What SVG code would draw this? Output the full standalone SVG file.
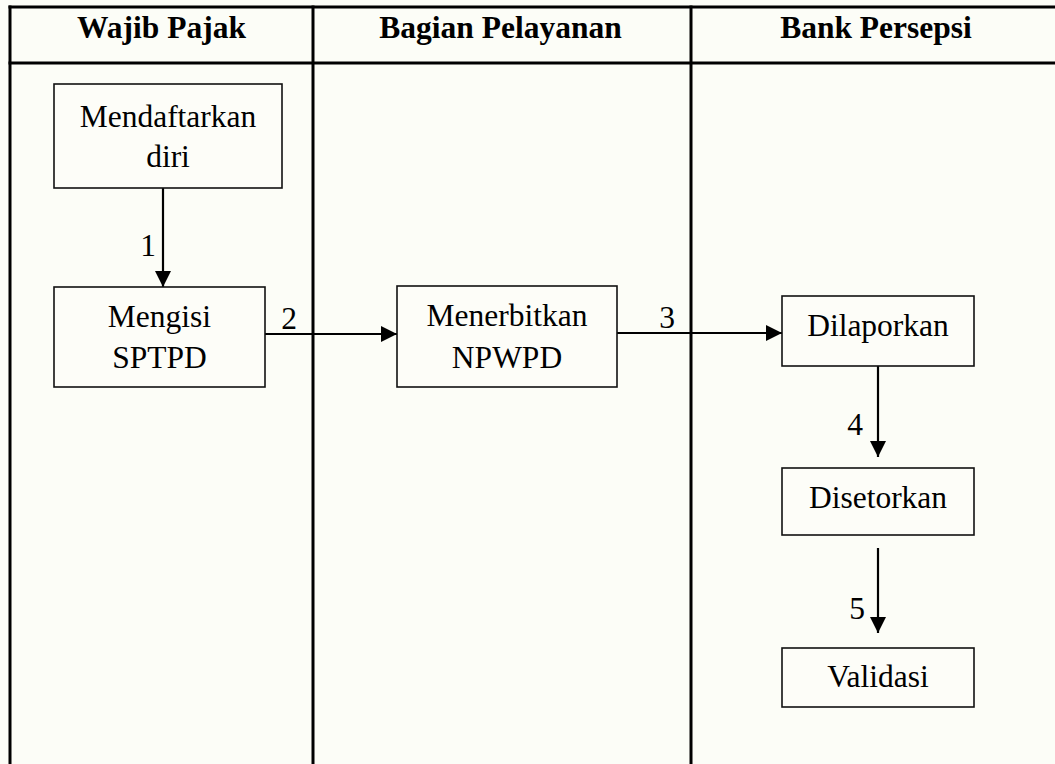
<svg xmlns="http://www.w3.org/2000/svg" width="1055" height="764" viewBox="0 0 1055 764">
<defs>
<style>
.grid{stroke:#000;stroke-width:3;fill:none}
.box{fill:#fdfdf8;stroke:#111;stroke-width:1.6}
.hd{font-family:"Liberation Serif","Times New Roman",serif;font-weight:bold;font-size:31.5px;fill:#000;text-anchor:middle}
.tx{font-family:"Liberation Serif","Times New Roman",serif;font-size:31.5px;fill:#000;text-anchor:middle}
.cn{stroke:#000;stroke-width:2.2;fill:none}
</style>
<marker id="ah" markerUnits="userSpaceOnUse" markerWidth="16" markerHeight="16" viewBox="0 0 16 16" refX="16" refY="8" orient="auto">
<path d="M0,0 L16,8 L0,16 Z" fill="#000"/>
</marker>
</defs>
<rect x="0" y="0" width="1055" height="764" fill="#fcfdf7"/>
<g id="table">
<line class="grid" x1="8.5" y1="7" x2="1055" y2="7"/>
<line class="grid" x1="8.5" y1="63" x2="1055" y2="63"/>
<line class="grid" x1="10" y1="5.5" x2="10" y2="764"/>
<line class="grid" x1="313" y1="5.5" x2="313" y2="764"/>
<line class="grid" x1="691" y1="5.5" x2="691" y2="764"/>
<text class="hd" x="161.5" y="38">Wajib Pajak</text>
<text class="hd" x="500.5" y="38">Bagian Pelayanan</text>
<text class="hd" x="876" y="38">Bank Persepsi</text>
</g>
<g id="connectors">
<line class="cn" x1="163" y1="188" x2="163" y2="287" marker-end="url(#ah)"/>
<line class="cn" x1="265" y1="334" x2="397" y2="334" marker-end="url(#ah)"/>
<line class="cn" x1="617" y1="333" x2="782" y2="333" marker-end="url(#ah)"/>
<line class="cn" x1="878" y1="366" x2="878" y2="457" marker-end="url(#ah)"/>
<line class="cn" x1="878" y1="548" x2="878" y2="633" marker-end="url(#ah)"/>
<text class="tx" x="148" y="256">1</text>
<text class="tx" x="289" y="329">2</text>
<text class="tx" x="667" y="328">3</text>
<text class="tx" x="855" y="435">4</text>
<text class="tx" x="857" y="619">5</text>
</g>
<g id="n1">
<rect class="box" x="54" y="84" width="228" height="104"/>
<text class="tx" x="168" y="127">Mendaftarkan</text>
<text class="tx" x="168" y="167">diri</text>
</g>
<g id="n2">
<rect class="box" x="54" y="287" width="211" height="100"/>
<text class="tx" x="159.5" y="327">Mengisi</text>
<text class="tx" x="159.5" y="368">SPTPD</text>
</g>
<g id="n3">
<rect class="box" x="397" y="286" width="220" height="101"/>
<text class="tx" x="507" y="326">Menerbitkan</text>
<text class="tx" x="507" y="368">NPWPD</text>
</g>
<g id="n4">
<rect class="box" x="782" y="296" width="192" height="70"/>
<text class="tx" x="878" y="336">Dilaporkan</text>
</g>
<g id="n5">
<rect class="box" x="782" y="468" width="192" height="67"/>
<text class="tx" x="878" y="508">Disetorkan</text>
</g>
<g id="n6">
<rect class="box" x="782" y="648" width="192" height="59"/>
<text class="tx" x="878" y="687">Validasi</text>
</g>
</svg>
